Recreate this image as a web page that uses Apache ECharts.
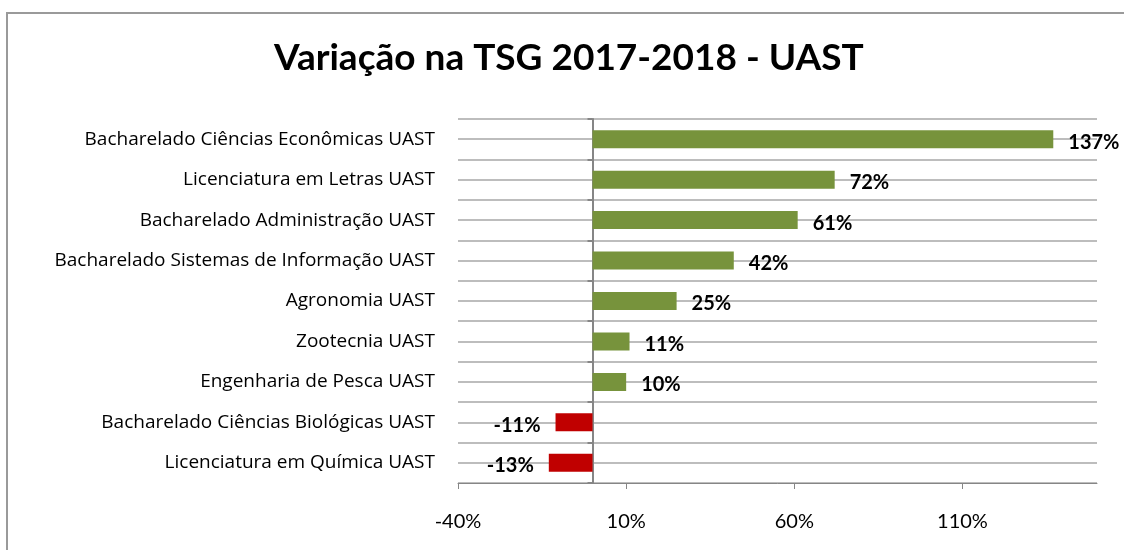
<!DOCTYPE html>
<html>
<head>
<meta charset="utf-8">
<script src="https://cdn.jsdelivr.net/npm/echarts@6/dist/echarts.min.js"></script>
<style>
  html, body { margin: 0; padding: 0; background: #fff; }
  #wrap { position: relative; width: 1124px; height: 550px; overflow: hidden; }
  #frame { position: absolute; left: 6px; top: 12px; width: 1140px; height: 560px; border: 2px solid #9a9a9a; box-sizing: border-box; }
  #main { position: absolute; left: 0; top: 0; width: 1124px; height: 550px; }
</style>
</head>
<body>
<div id="wrap">
  <div id="frame"></div>
  <div id="main"></div>
</div>
<script>
var categories = [
  'Bacharelado Ciências Econômicas UAST',
  'Licenciatura em Letras UAST',
  'Bacharelado Administração UAST',
  'Bacharelado Sistemas de Informação UAST',
  'Agronomia UAST',
  'Zootecnia UAST',
  'Engenharia de Pesca UAST',
  'Bacharelado Ciências Biológicas UAST',
  'Licenciatura em Química UAST'
];
var variacao = [137, 72, 61, 42, 25, 11, 10, -11, -13];
var xTicks = [-40, 10, 60, 110];

var font = 'Lato, "Liberation Sans", sans-serif';
var labelFont = '"Open Sans", "Noto Sans", sans-serif';

// half-category rows, only used for the gridlines
var halfRows = [];
for (var i = 0; i < categories.length * 2; i++) halfRows.push('');

var barData = variacao.map(function (v) {
  return {
    value: v,
    itemStyle: { color: v >= 0 ? '#77933C' : '#C00000' },
    label: { position: v >= 0 ? 'right' : 'left' }
  };
});

var myChart = echarts.init(document.getElementById('main'));
myChart.setOption({
  animation: false,
  title: {
    text: 'Variação na TSG 2017-2018 - UAST',
    left: 269,
    top: 35,
    textStyle: { fontFamily: font, fontWeight: 'bold', fontSize: 37, color: '#000' }
  },
  grid: { left: 458, right: 27, top: 119, bottom: 67, containLabel: false },
  xAxis: {
    type: 'value',
    min: -40,
    max: 150,
    interval: 50,
    axisLine: { show: true, lineStyle: { color: '#868686', width: 1 } },
    axisTick: { show: true, length: 6, customValues: xTicks, lineStyle: { color: '#868686' } },
    axisLabel: {
      customValues: xTicks,
      formatter: '{value}%',
      margin: 29,
      fontFamily: font,
      fontSize: 20,
      color: '#000'
    },
    splitLine: { show: false }
  },
  yAxis: [
    {
      type: 'category',
      data: categories,
      inverse: true,
      position: 'left',
      axisLine: { show: false, onZero: false },
      axisTick: { show: false },
      axisLabel: { margin: 23, fontFamily: labelFont, fontSize: 19, color: '#000' },
      splitLine: { show: false }
    },
    {
      type: 'category',
      data: halfRows,
      position: 'left',
      axisLine: { show: false, onZero: false },
      axisTick: { show: false },
      axisLabel: { show: false },
      splitLine: { show: true, lineStyle: { color: '#BDBDBD', width: 2 } }
    },
    {
      type: 'category',
      data: categories,
      inverse: true,
      position: 'left',
      axisLine: { show: true, onZero: true, lineStyle: { color: '#868686', width: 2 } },
      axisTick: { show: true, length: 5, lineStyle: { color: '#868686', width: 2 } },
      axisLabel: { show: false },
      splitLine: { show: false }
    }
  ],
  series: [{
    name: 'Variação',
    type: 'bar',
    yAxisIndex: 0,
    barWidth: 18,
    data: barData,
    label: {
      show: true,
      distance: 15,
      offset: [0, 3],
      formatter: '{c}%',
      fontFamily: font,
      fontWeight: 'bold',
      fontSize: 20,
      color: '#000'
    }
  }]
});
</script>
</body>
</html>
